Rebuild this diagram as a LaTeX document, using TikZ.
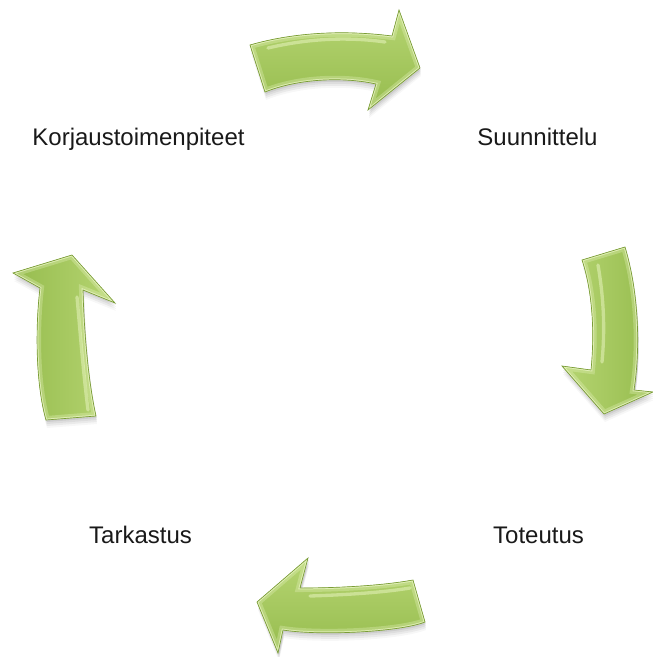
\documentclass[tikz,border=0pt]{standalone}
\usepackage{fontspec}
\setmainfont{Liberation Sans}

\definecolor{arrowbase}{RGB}{150,188,78}
\definecolor{arrowlight}{RGB}{182,213,114}
\definecolor{arrowhi}{RGB}{236,247,198}
\definecolor{arrowdark}{RGB}{122,156,56}

% outlines of the four curved arrows (pixel grid, y pointing down)
\newcommand\pathTopArrow{(250,45) .. controls (295,32) and (345,30) .. (392,36) -- (399,10) -- (420,68) -- (368,110) -- (376,84) .. controls (345,77) and (300,78) .. (265,92) -- cycle}
\newcommand\pathRightArrow{(582,260) -- (625,247) .. controls (638,290) and (641,345) .. (634,390) -- (653,392) -- (604,414) -- (562,366) -- (591,370) .. controls (595,330) and (592,290) .. (582,260) -- cycle}
\newcommand\pathBottomArrow{(413,580) -- (425,622) .. controls (400,632) and (320,636) .. (283,630) -- (278,653) -- (257,602) -- (308,558) -- (300,588) .. controls (335,588) and (380,586) .. (413,580) -- cycle}
\newcommand\pathLeftArrow{(46,420) -- (96,416) .. controls (88,380) and (84,330) .. (83,290) -- (115,303) -- (72,255) -- (13,273) -- (40,288) .. controls (35,330) and (36,385) .. (46,420) -- cycle}

% one bevelled arrow: soft shadow, gradient body, light inner rim, gloss stripe
\newcommand\bevelarrow[3]{%
  \foreach \o/\a in {2/0.07,4/0.06,6/0.05,8/0.03}
    \fill[black,opacity=\a,shift={(1,\o)}] #1;
  \begin{scope}
    \clip #1;
    \fill[arrowbase,#2] #1;
    \draw[arrowhi,opacity=0.3,line width=6pt] #1;
    \draw[arrowhi,opacity=0.75,line width=2pt] #1;
    \draw[arrowhi,opacity=0.5,line width=2.5pt,line cap=round] #3;
  \end{scope}
  \draw[arrowdark,line width=0.5pt] #1;
}

\tikzset{
  steplabel/.style={font=\fontsize{18}{20}\selectfont, text=black!90, inner sep=0pt, anchor=base}
}

\begin{document}
\begin{tikzpicture}[x=0.75pt,y=-0.75pt]
  \useasboundingbox (0,0) rectangle (653,657);

  \bevelarrow{\pathTopArrow}{top color=arrowlight,bottom color=arrowbase}
    {(268,48) .. controls (310,38) and (350,37) .. (385,42)}
  \bevelarrow{\pathRightArrow}{left color=arrowlight,right color=arrowbase}
    {(598,265) .. controls (604,300) and (605,330) .. (602,362)}
  \bevelarrow{\pathBottomArrow}{top color=arrowlight,bottom color=arrowbase}
    {(310,596) .. controls (340,595) and (380,593) .. (410,588)}
  \bevelarrow{\pathLeftArrow}{left color=arrowbase,right color=arrowlight}
    {(77,297) .. controls (80,330) and (83,370) .. (88,410)}

  \node[steplabel] (plan)   at (537.5,145) {Suunnittelu};
  \node[steplabel] (do)     at (538.5,543) {Toteutus};
  \node[steplabel] (check)  at (140.5,543) {Tarkastus};
  \node[steplabel] (act)    at (138.5,145) {Korjaustoimenpiteet};
\end{tikzpicture}
\end{document}
